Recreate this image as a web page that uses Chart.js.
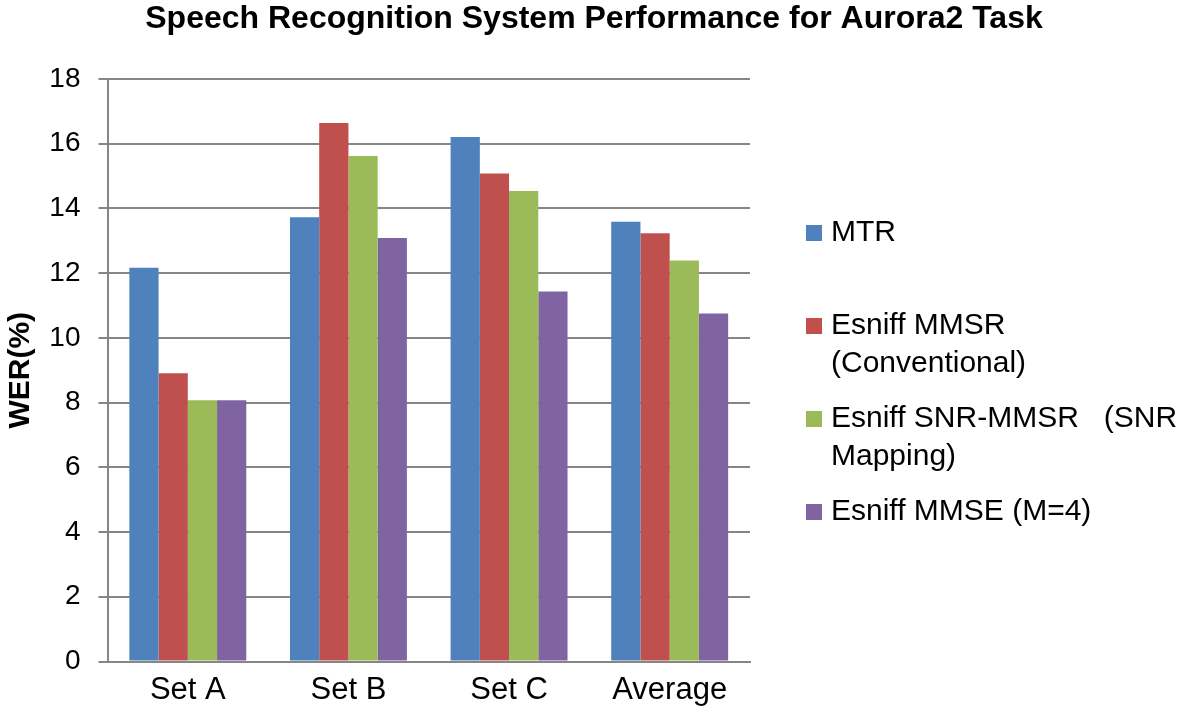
<!DOCTYPE html>
<html>
<head>
<meta charset="utf-8">
<script src="https://cdn.jsdelivr.net/npm/chart.js@4.4.1/dist/chart.umd.min.js"></script>
<style>
html,body{margin:0;padding:0;background:#ffffff;}
#wrap{width:1200px;height:718px;position:relative;}
</style>
</head>
<body>
<div id="wrap"><canvas id="c" width="1200" height="718"></canvas></div>
<script>
const chartTitle = 'Speech Recognition System Performance for Aurora2 Task';
const yAxisTitle = 'WER(%)';
const categories = ['Set A', 'Set B', 'Set C', 'Average'];
const seriesNames = ['MTR', 'Esniff MMSR (Conventional)', 'Esniff SNR-MMSR   (SNR Mapping)', 'Esniff MMSE (M=4)'];
const legendLines = [['MTR'], ['Esniff MMSR', '(Conventional)'], ['Esniff SNR-MMSR   (SNR', 'Mapping)'], ['Esniff MMSE (M=4)']];
const mtrValues = [12.17, 13.73, 16.21, 13.59];
const mmsrValues = [8.91, 16.64, 15.08, 13.23];
const snrMmsrValues = [8.07, 15.62, 14.54, 12.39];
const mmseValues = [8.07, 13.09, 11.43, 10.75];
const yTickValues = [0, 2, 4, 6, 8, 10, 12, 14, 16, 18];
const seriesColors = ['#4F81BD', '#C0504D', '#9BBB59', '#8064A2'];

const FONT = '"Liberation Sans", Arial, Helvetica, sans-serif';
const GRID = '#868686';

const titleAndLegendPlugin = {
  id: 'titleAndLegend',
  afterDraw(chart) {
    const ctx = chart.ctx;
    ctx.save();
    // chart title
    ctx.font = 'bold 32px ' + FONT;
    ctx.textBaseline = 'middle';
    ctx.textAlign = 'center';
    ctx.fillStyle = '#000000';
    ctx.fillText(chartTitle, 594, 19);
    // side legend
    ctx.font = '30px ' + FONT;
    ctx.textAlign = 'left';
    const x0 = 806, size = 16, textX = 831, y0 = 233, itemGap = 93, lineGap = 38;
    chart.data.datasets.forEach((ds, i) => {
      const yc = y0 + i * itemGap;
      ctx.fillStyle = ds.backgroundColor;
      ctx.fillRect(x0, yc - size / 2, size, size);
      ctx.fillStyle = '#000000';
      legendLines[i].forEach((line, j) => {
        ctx.fillText(line, textX, yc + j * lineGap);
      });
    });
    ctx.restore();
  }
};

new Chart(document.getElementById('c'), {
  type: 'bar',
  data: {
    labels: categories,
    datasets: [
      { label: seriesNames[0], data: mtrValues, backgroundColor: seriesColors[0] },
      { label: seriesNames[1], data: mmsrValues, backgroundColor: seriesColors[1] },
      { label: seriesNames[2], data: snrMmsrValues, backgroundColor: seriesColors[2] },
      { label: seriesNames[3], data: mmseValues, backgroundColor: seriesColors[3] }
    ]
  },
  options: {
    responsive: false,
    animation: false,
    layout: { padding: { left: 0, right: 450, top: 79, bottom: 0 } },
    datasets: { bar: { categoryPercentage: 0.728, barPercentage: 1.0, borderWidth: 0 } },
    plugins: {
      legend: { display: false },
      tooltip: { enabled: false },
      title: { display: false }
    },
    scales: {
      x: {
        grid: { display: false, drawTicks: false },
        border: { display: true, color: GRID, width: 2 },
        ticks: { color: '#000000', font: { family: FONT, size: 31 }, padding: 10 },
        afterFit(scale) { scale.height = 56.5; }
      },
      y: {
        min: 0,
        max: 18,
        afterBuildTicks(scale) { scale.ticks = yTickValues.map(v => ({ value: v })); },
        grid: { color: GRID, lineWidth: 2, drawTicks: true, tickLength: 9, tickColor: GRID },
        border: { display: true, color: GRID, width: 2 },
        ticks: { color: '#000000', font: { family: FONT, size: 28 }, padding: 18 },
        title: {
          display: true,
          text: yAxisTitle,
          color: '#000000',
          font: { family: FONT, size: 30, weight: 'bold', lineHeight: 1.2 },
          padding: { top: 3, bottom: 0 }
        },
        afterFit(scale) { scale.width = 107.5; }
      }
    }
  },
  plugins: [titleAndLegendPlugin]
});
</script>
</body>
</html>
